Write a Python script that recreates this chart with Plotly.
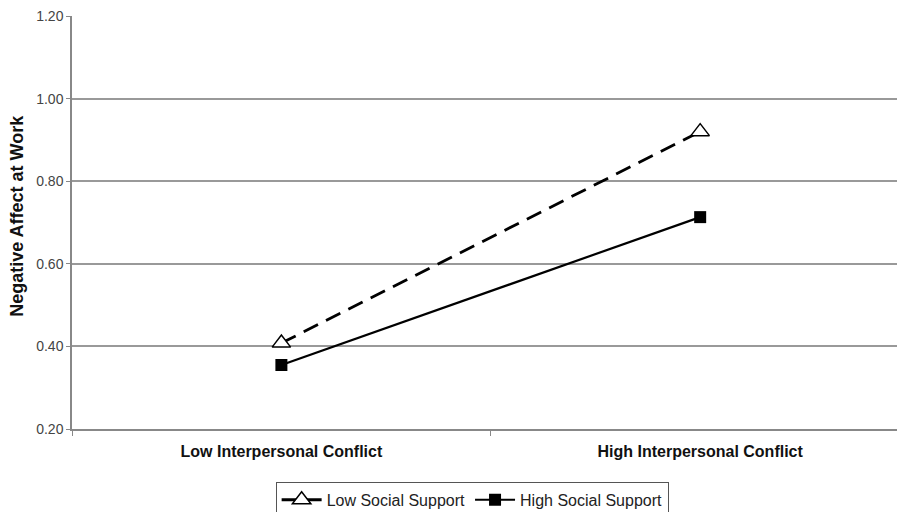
import plotly.graph_objects as go

categories = ["Low Interpersonal Conflict", "High Interpersonal Conflict"]
category_labels = ["<b>Low Interpersonal Conflict</b>", "<b>High Interpersonal Conflict</b>"]
low_support = [0.408, 0.920]
high_support = [0.355, 0.713]
y_ticks = [0.2, 0.4, 0.6, 0.8, 1.0, 1.2]
y_tick_labels = ["0.20", "0.40", "0.60", "0.80", "1.00", "1.20"]
y_title = "Negative Affect at Work"

FONT = "Liberation Sans, Arial, sans-serif"

fig = go.Figure()
fig.add_trace(go.Scatter(
    x=categories, y=low_support, name="Low Social Support",
    mode="lines+markers",
    line=dict(color="black", width=2.8, dash="16px,9px"),
    marker=dict(symbol="triangle-up", size=16, color="white", line=dict(width=1.5, color="black")),
))
fig.add_trace(go.Scatter(
    x=categories, y=high_support, name="High Social Support",
    mode="lines+markers",
    line=dict(color="black", width=2.2),
    marker=dict(symbol="square", size=12, color="black"),
))

fig.update_layout(
    width=897, height=512,
    margin=dict(l=72, r=0, t=16, b=83, autoexpand=False),
    paper_bgcolor="white", plot_bgcolor="white",
    font=dict(family=FONT, color="#222"),
    showlegend=True,
    legend=dict(
        orientation="h", x=0.485, xanchor="center", y=-0.128, yanchor="top",
        bordercolor="#555", borderwidth=1, font=dict(size=16, color="#222"),
        tracegroupgap=0, itemwidth=40,
    ),
    annotations=[dict(
        text="<b>" + y_title + "</b>", textangle=-90,
        xref="paper", yref="paper", x=-0.066, y=0.515, xanchor="center", yanchor="middle",
        showarrow=False, font=dict(size=18, color="#111", family=FONT),
    )],
)
fig.update_xaxes(
    type="category", range=[-0.5, 1.47], automargin=False,
    showline=True, linecolor="#888", linewidth=1.5,
    ticks="outside", tickson="boundaries", ticklen=5, tickcolor="#888",
    showgrid=False,
    tickvals=categories, ticktext=category_labels,
    tickfont=dict(size=16, color="#111", family=FONT),
    ticklabelstandoff=7,
)
fig.update_yaxes(
    range=[0.2, 1.2], tickvals=y_ticks, ticktext=y_tick_labels, automargin=False,
    showline=True, linecolor="#888", linewidth=1.5,
    ticks="outside", ticklen=4, tickcolor="#888",
    showgrid=True, gridcolor="#999", gridwidth=1.5,
    zeroline=False,
    tickfont=dict(size=14, color="#444", family=FONT),
)

fig.write_html(
    "out.html",
    config={"displayModeBar": False},
    post_script="document.body.style.margin='0';document.body.style.overflow='hidden';",
)
